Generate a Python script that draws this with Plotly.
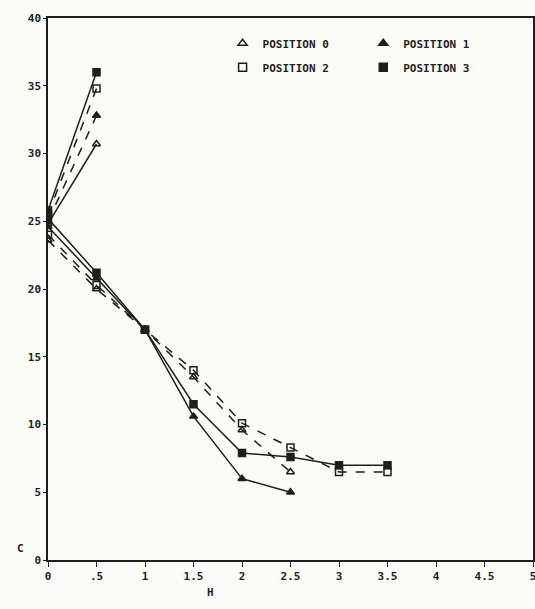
import plotly.graph_objects as go

# ---- data ----
x_rise = [0, 0.5]
rise_p0 = [24.8, 30.7]
rise_p1 = [25.0, 32.8]
rise_p2 = [25.5, 34.8]
rise_p3 = [25.8, 36.0]

x_fall = [0, 0.5, 1, 1.5, 2, 2.5, 3, 3.5]
fall_p0 = [23.6, 20.0, 17.0, 13.5, 9.6, 6.5]
fall_p1 = [24.6, 20.8, 17.0, 10.6, 6.0, 5.0]
fall_p2 = [24.0, 20.3, 17.0, 14.0, 10.1, 8.3, 6.5, 6.5]
fall_p3 = [25.2, 21.2, 17.0, 11.5, 7.9, 7.6, 7.0, 7.0]

names = ["POSITION 0", "POSITION 1", "POSITION 2", "POSITION 3"]
x_ticks = [0, 0.5, 1, 1.5, 2, 2.5, 3, 3.5, 4, 4.5, 5]
x_ticktext = ["0", ".5", "1", "1.5", "2", "2.5", "3", "3.5", "4", "4.5", "5"]
y_ticks = [0, 5, 10, 15, 20, 25, 30, 35, 40]
y_ticktext = ["0", "5", "10", "15", "20", "25", "30", "35", "40"]

INK = "#1e1e1e"
FONT = dict(family="DejaVu Sans Mono", size=11, color=INK, weight="bold")

symbols = ["triangle-up-open", "triangle-up", "square-open", "square"]
dashes = ["dash", "solid", "dash", "solid"]
rises = [rise_p0, rise_p1, rise_p2, rise_p3]
falls = [fall_p0, fall_p1, fall_p2, fall_p3]
rise_dash = ["solid", "dash", "dash", "solid"]

fig = go.Figure()
for i in range(4):
    mk = dict(symbol=symbols[i], size=7, color=INK, line=dict(color=INK, width=1.5))
    fig.add_trace(go.Scatter(
        x=x_rise, y=rises[i], mode="lines+markers",
        line=dict(color=INK, width=1.5, dash=rise_dash[i]),
        marker=mk, showlegend=False))
    fig.add_trace(go.Scatter(
        x=x_fall[:len(falls[i])], y=falls[i], mode="lines+markers",
        line=dict(color=INK, width=1.5, dash=dashes[i]),
        marker=mk, showlegend=False))

# legend entries (marker only)
for i in range(4):
    fig.add_trace(go.Scatter(
        x=[None], y=[None], mode="markers", name=names[i],
        marker=dict(symbol=symbols[i], size=8, color=INK, line=dict(color=INK, width=1.5)),
        legend="legend" if i % 2 == 0 else "legend2",
        legendgroup=names[i], showlegend=True))

axis_common = dict(showgrid=False, zeroline=False, showline=True, linecolor=INK,
                   linewidth=1.5, mirror=True, ticks="outside", tickcolor=INK,
                   tickfont=FONT, automargin=False, ticklabeloverflow="allow")

fig.update_layout(
    width=535, height=609,
    margin=dict(l=48, r=2, t=18, b=49),
    paper_bgcolor="#fbfbf8", plot_bgcolor="#fbfbf8",
    font=FONT,
    xaxis=dict(range=[0, 5], tickvals=x_ticks, ticktext=x_ticktext, ticklen=5, **axis_common),
    yaxis=dict(range=[0, 40], tickvals=y_ticks, ticktext=y_ticktext, ticklen=3, **axis_common),
    legend=dict(x=0.36, y=0.98, xanchor="left", yanchor="top", bgcolor="rgba(0,0,0,0)",
                font=FONT, tracegroupgap=5, itemwidth=30),
    legend2=dict(x=0.65, y=0.98, xanchor="left", yanchor="top", bgcolor="rgba(0,0,0,0)",
                 font=FONT, tracegroupgap=5, itemwidth=30),
    annotations=[
        dict(text="H", x=1.68, xref="x", y=-0.075, yref="paper", showarrow=False, font=FONT),
        dict(text="C", x=-0.068, xref="paper", y=0.005, yref="paper", showarrow=False, font=FONT),
    ],
)

fig.write_html("out.html",
               config={"displayModeBar": False},
               post_script="document.body.style.margin='0';document.body.style.overflow='hidden';")
